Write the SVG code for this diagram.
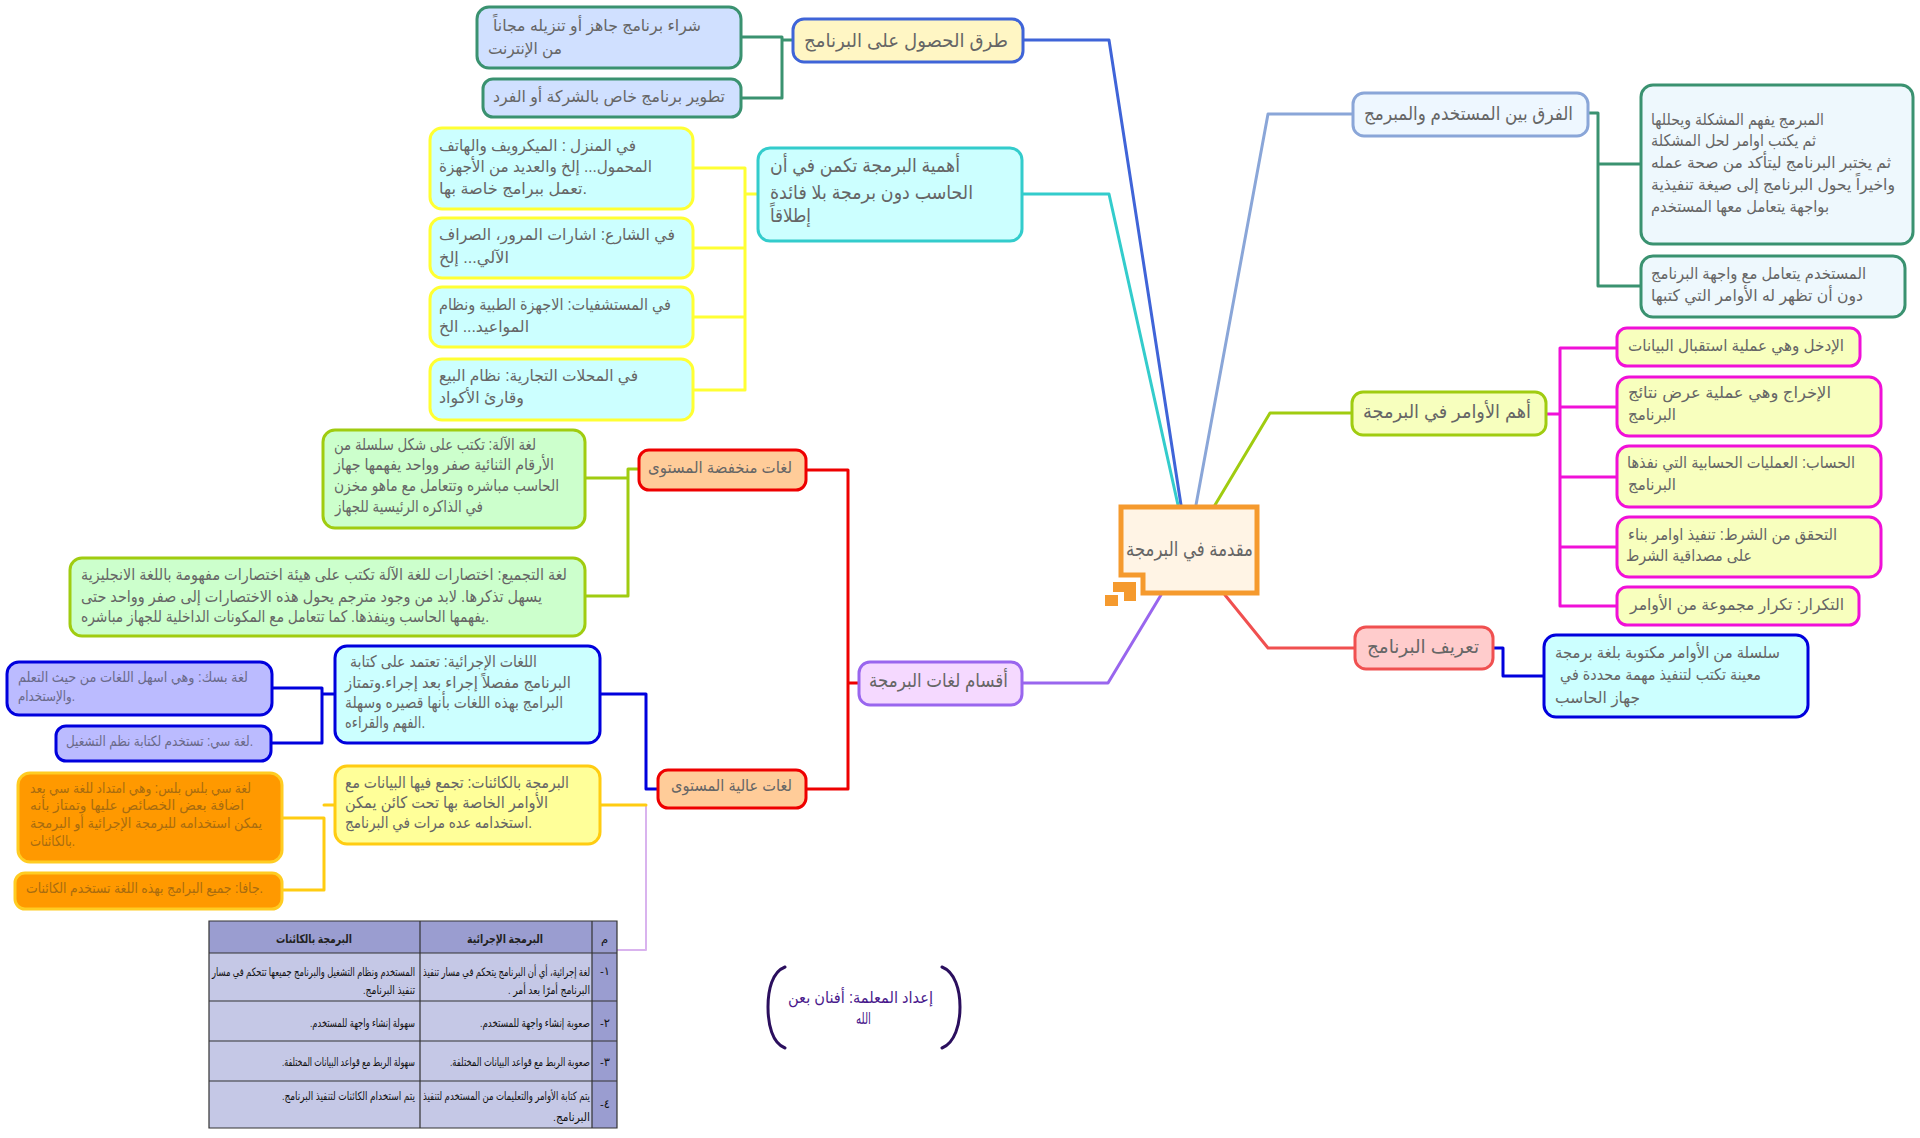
<svg xmlns="http://www.w3.org/2000/svg" width="1920" height="1138" viewBox="0 0 1920 1138">
<style>
text{font-family:"Liberation Sans","DejaVu Sans",sans-serif;fill:#666;font-size:16px}
.l{font-size:19px}
.s{font-size:14px}
.c{fill:none;stroke-width:3;stroke-linejoin:round;stroke-linecap:round}
.thin{stroke-width:2}
.n{stroke-width:3}
.f1{fill:#d0e0ff;stroke:#3a9270}
.f2{fill:#fff6c4;stroke:#3f64d8}
.f3{fill:#ccffff;stroke:#33cccc}
.f4{fill:#ccffff;stroke:#ffff33}
.f5{fill:#eef7ff;stroke:#8aa6d8}
.f6{fill:#eef8fd;stroke:#3a9270}
.f7{fill:#f7ffbe;stroke:#a0cc10}
.f8{fill:#f8ffbe;stroke:#f010d8}
.f9{fill:#ffcccc;stroke:#f05050}
.f10{fill:#ccffff;stroke:#0000dd}
.f11{fill:#f5d9ff;stroke:#9966ee}
.f12{fill:#ffcc99;stroke:#ee0000}
.f13{fill:#ccffcc;stroke:#a0cc10}
.f14{fill:#bbbbff;stroke:#0000dd}
.f15{fill:#ffff99;stroke:#ffcc11}
.f16{fill:#ff9900;stroke:#ffcc22}
.p{fill:#6a6a8a}
.o{fill:#a86c10}
.t{fill:#111;font-size:11.5px}
.h{fill:#222;font-size:12px;font-weight:bold}
.rb{fill:#4a1a8c;font-size:16px}
.cn{font-size:20px}
</style>
<g id="connectors">
<path class="c" stroke="#3f64d8" d="M1023 40H1109L1181 505"/>
<path class="c" stroke="#33cccc" d="M1022 194H1109L1178 505"/>
<path class="c" stroke="#8aa6d8" d="M1353 114H1268L1196 505"/>
<path class="c" stroke="#a0cc10" d="M1352 413H1270L1215 505"/>
<path class="c" stroke="#9966ee" d="M1022 683H1108L1161 595"/>
<path class="c" stroke="#f05050" d="M1225 595L1268 648H1355"/>
<path class="c" stroke="#3a9270" d="M741 37H782M741 98H782V37M782 40H793"/>
<path class="c" stroke="#ffff33" d="M693 168H745V390H693M693 248H745M693 317H745M745 194H758"/>
<path class="c" stroke="#3a9270" d="M1588 113H1598V286H1641M1598 164H1641"/>
<path class="c" stroke="#f010d8" d="M1617 348H1560V606H1617M1617 407H1560M1617 477H1560M1617 547H1560M1546 414H1560"/>
<path class="c" stroke="#0000dd" d="M1493 648H1503V676H1544"/>
<path class="c" stroke="#a0cc10" d="M585 478H628M585 596H628V469H639"/>
<path class="c" stroke="#ee0000" d="M806 470H848V789H806M848 683H859"/>
<path class="c thin" stroke="#d9b3ee" d="M646 805V950H617"/>
<path class="c" stroke="#0000dd" d="M600 694H646V789H658"/>
<path class="c" stroke="#ffcc11" d="M600 805H646"/>
<path class="c" stroke="#0000dd" d="M272 688H322V743H271M322 694H335"/>
<path class="c" stroke="#ffcc11" d="M282 818H324V890H282M324 805H335"/>
</g>
<g id="center">
<path fill="#fff4e5" stroke="#f59a2e" stroke-width="5" d="M1121 507H1257V593H1143V575H1121Z"/>
<path fill="#f59a2e" d="M1113 582H1136V601H1124V592H1113Z"/>
<rect x="1105" y="595" width="13" height="11" fill="#f59a2e"/>
<text class="cn" x="1126" y="556" textLength="127" lengthAdjust="spacingAndGlyphs">مقدمة في البرمجة</text>
</g>
<g id="n-buy"><rect class="n f1" x="477" y="7" width="264" height="61" rx="12"/>
<text x="493" y="31" textLength="208" lengthAdjust="spacingAndGlyphs">شراء برنامج جاهز أو تنزيله مجاناً</text>
<text x="488" y="54" textLength="74" lengthAdjust="spacingAndGlyphs">من الإنترنت</text></g>
<g id="n-dev"><rect class="n f1" x="483" y="79" width="258" height="38" rx="10"/>
<text x="493" y="102" textLength="232" lengthAdjust="spacingAndGlyphs">تطوير برنامج خاص بالشركة أو الفرد</text></g>
<g id="n-ways"><rect class="n f2" x="793" y="19" width="230" height="43" rx="11"/>
<text class="l" x="804" y="47" textLength="204" lengthAdjust="spacingAndGlyphs">طرق الحصول على البرنامج</text></g>
<g id="n-importance"><rect class="n f3" x="758" y="148" width="264" height="93" rx="12"/>
<text class="l" x="770" y="172" textLength="190" lengthAdjust="spacingAndGlyphs">أهمية البرمجة تكمن في أن</text>
<text class="l" x="770" y="199" textLength="203" lengthAdjust="spacingAndGlyphs">الحاسب دون برمجة بلا فائدة</text>
<text class="l" x="770" y="222" textLength="41" lengthAdjust="spacingAndGlyphs">إطلاقاً</text></g>
<g id="n-home"><rect class="n f4" x="430" y="128" width="263" height="81" rx="12"/>
<text x="439" y="151" textLength="197" lengthAdjust="spacingAndGlyphs">في المنزل : الميكرويف والهاتف</text>
<text x="439" y="172" textLength="213" lengthAdjust="spacingAndGlyphs">المحمول... إلخ والعديد من الأجهزة</text>
<text x="439" y="194" textLength="148" lengthAdjust="spacingAndGlyphs">تعمل ببرامج خاصة بها.</text></g>
<g id="n-street"><rect class="n f4" x="430" y="218" width="263" height="60" rx="12"/>
<text x="439" y="240" textLength="236" lengthAdjust="spacingAndGlyphs">في الشارع: اشارات المرور، الصراف</text>
<text x="439" y="263" textLength="70" lengthAdjust="spacingAndGlyphs">الآلي... إلخ</text></g>
<g id="n-hospital"><rect class="n f4" x="430" y="287" width="263" height="60" rx="12"/>
<text x="439" y="310" textLength="232" lengthAdjust="spacingAndGlyphs">في المستشفيات: الاجهزة الطبية ونظام</text>
<text x="439" y="332" textLength="90" lengthAdjust="spacingAndGlyphs">المواعيد... الخ</text></g>
<g id="n-shops"><rect class="n f4" x="430" y="359" width="263" height="61" rx="12"/>
<text x="439" y="381" textLength="199" lengthAdjust="spacingAndGlyphs">في المحلات التجارية: نظام البيع</text>
<text x="439" y="403" textLength="85" lengthAdjust="spacingAndGlyphs">وقارئ الأكواد</text></g>
<g id="n-diff"><rect class="n f5" x="1353" y="93" width="235" height="43" rx="11"/>
<text class="l" x="1364" y="120" textLength="209" lengthAdjust="spacingAndGlyphs">الفرق بين المستخدم والمبرمج</text></g>
<g id="n-programmer"><rect class="n f6" x="1641" y="85" width="272" height="159" rx="12"/>
<text x="1651" y="125" textLength="173" lengthAdjust="spacingAndGlyphs">المبرمج يفهم المشكلة ويحللها</text>
<text x="1651" y="146" textLength="165" lengthAdjust="spacingAndGlyphs">ثم يكتب اوامر لحل المشكلة</text>
<text x="1651" y="168" textLength="240" lengthAdjust="spacingAndGlyphs">ثم يختبر البرنامج ليتأكد من صحة عمله</text>
<text x="1651" y="190" textLength="244" lengthAdjust="spacingAndGlyphs">واخيراً يحول البرنامج إلى صيغة تنفيذية</text>
<text x="1651" y="212" textLength="178" lengthAdjust="spacingAndGlyphs">بواجهة يتعامل معها المستخدم</text></g>
<g id="n-user"><rect class="n f6" x="1641" y="256" width="264" height="61" rx="12"/>
<text x="1651" y="279" textLength="215" lengthAdjust="spacingAndGlyphs">المستخدم يتعامل مع واجهة البرنامج</text>
<text x="1651" y="301" textLength="212" lengthAdjust="spacingAndGlyphs">دون أن تظهر له الأوامر التي كتبها</text></g>
<g id="n-commands"><rect class="n f7" x="1352" y="392" width="194" height="43" rx="11"/>
<text class="l" x="1363" y="418" textLength="168" lengthAdjust="spacingAndGlyphs">أهم الأوامر في البرمجة</text></g>
<g id="n-input"><rect class="n f8" x="1617" y="328" width="243" height="38" rx="10"/>
<text x="1628" y="351" textLength="216" lengthAdjust="spacingAndGlyphs">الإدخل وهي عملية استقبال البيانات</text></g>
<g id="n-output"><rect class="n f8" x="1617" y="377" width="264" height="59" rx="12"/>
<text x="1628" y="398" textLength="203" lengthAdjust="spacingAndGlyphs">الإخراج وهي عملية عرض نتائج</text>
<text x="1628" y="420" textLength="48" lengthAdjust="spacingAndGlyphs">البرنامج</text></g>
<g id="n-calc"><rect class="n f8" x="1617" y="446" width="264" height="61" rx="12"/>
<text x="1627" y="468" textLength="228" lengthAdjust="spacingAndGlyphs">الحساب: العمليات الحسابية التي نفذها</text>
<text x="1628" y="490" textLength="48" lengthAdjust="spacingAndGlyphs">البرنامج</text></g>
<g id="n-cond"><rect class="n f8" x="1617" y="517" width="264" height="60" rx="12"/>
<text x="1628" y="540" textLength="209" lengthAdjust="spacingAndGlyphs">التحقق من الشرط: تنفيذ اوامر بناء</text>
<text x="1626" y="561" textLength="126" lengthAdjust="spacingAndGlyphs">على مصداقية الشرط</text></g>
<g id="n-loop"><rect class="n f8" x="1617" y="587" width="242" height="38" rx="10"/>
<text x="1630" y="610" textLength="214" lengthAdjust="spacingAndGlyphs">التكرار: تكرار مجموعة من الأوامر</text></g>
<g id="n-def"><rect class="n f9" x="1355" y="627" width="138" height="42" rx="11"/>
<text class="l" x="1367" y="653" textLength="112" lengthAdjust="spacingAndGlyphs">تعريف البرنامج</text></g>
<g id="n-defbody"><rect class="n f10" x="1544" y="635" width="264" height="82" rx="12"/>
<text x="1555" y="658" textLength="225" lengthAdjust="spacingAndGlyphs">سلسلة من الأوامر مكتوبة بلغة برمجة</text>
<text x="1560" y="680" textLength="201" lengthAdjust="spacingAndGlyphs">معينة تكتب لتنفيذ مهمة محددة في</text>
<text x="1555" y="703" textLength="85" lengthAdjust="spacingAndGlyphs">جهاز الحاسب</text></g>
<g id="n-types"><rect class="n f11" x="859" y="662" width="163" height="43" rx="11"/>
<text class="l" x="869" y="687" textLength="139" lengthAdjust="spacingAndGlyphs">أقسام لغات البرمجة</text></g>
<g id="n-low"><rect class="n f12" x="639" y="450" width="167" height="40" rx="10"/>
<text x="648" y="473" textLength="144" lengthAdjust="spacingAndGlyphs">لغات منخفضة المستوى</text></g>
<g id="n-high"><rect class="n f12" x="658" y="770" width="148" height="38" rx="10"/>
<text x="671" y="791" textLength="121" lengthAdjust="spacingAndGlyphs">لغات عالية المستوى</text></g>
<g id="n-machine"><rect class="n f13" x="323" y="430" width="262" height="98" rx="12"/>
<text x="334" y="450" textLength="202" lengthAdjust="spacingAndGlyphs">لغة الآلة: تكتب على شكل سلسلة من</text>
<text x="334" y="470" textLength="220" lengthAdjust="spacingAndGlyphs">الأرقام الثنائية صفر وواحد يفهمها جهاز</text>
<text x="334" y="491" textLength="225" lengthAdjust="spacingAndGlyphs">الحاسب مباشره وتتعامل مع ماهو مخزن</text>
<text x="335" y="512" textLength="148" lengthAdjust="spacingAndGlyphs">في الذاكره الرئيسية للجهاز</text></g>
<g id="n-asm"><rect class="n f13" x="70" y="558" width="515" height="78" rx="12"/>
<text x="81" y="580" textLength="486" lengthAdjust="spacingAndGlyphs">لغة التجميع: اختصارات للغة الآلة تكتب على هيئة اختصارات مفهومة باللغة الانجليزية</text>
<text x="81" y="602" textLength="461" lengthAdjust="spacingAndGlyphs">يسهل تذكرها. لابد من وجود مترجم يحول هذه الاختصارات إلى صفر وواحد حتى</text>
<text x="81" y="622" textLength="408" lengthAdjust="spacingAndGlyphs">يفهمها الحاسب وينفذها. كما تتعامل مع المكونات الداخلية للجهاز مباشره.</text></g>
<g id="n-procedural"><rect class="n f10" x="335" y="646" width="265" height="97" rx="12"/>
<text x="350" y="667" textLength="187" lengthAdjust="spacingAndGlyphs">اللغات الإجرائية: تعتمد على كتابة</text>
<text x="345" y="688" textLength="226" lengthAdjust="spacingAndGlyphs">البرنامج مفصلاً إجراء بعد إجراء.وتمتاز</text>
<text x="345" y="708" textLength="218" lengthAdjust="spacingAndGlyphs">البرامج بهذه اللغات بأنها قصيره وسهلة</text>
<text x="345" y="728" textLength="80" lengthAdjust="spacingAndGlyphs">الفهم والقراءه.</text></g>
<g id="n-oop"><rect class="n f15" x="335" y="766" width="265" height="78" rx="12"/>
<text x="345" y="788" textLength="224" lengthAdjust="spacingAndGlyphs">البرمجة بالكائنات: تجمع فيها البيانات مع</text>
<text x="345" y="808" textLength="203" lengthAdjust="spacingAndGlyphs">الأوامر الخاصة بها تحت كائن يمكن</text>
<text x="345" y="828" textLength="187" lengthAdjust="spacingAndGlyphs">استخدامه عده مرات في البرنامج.</text></g>
<g id="n-basic"><rect class="n f14" x="7" y="662" width="265" height="53" rx="12"/>
<text class="s p" x="18" y="682" textLength="230" lengthAdjust="spacingAndGlyphs">لغة بسك: وهي اسهل اللغات من حيث التعلم</text>
<text class="s p" x="18" y="701" textLength="57" lengthAdjust="spacingAndGlyphs">والإستخدام.</text></g>
<g id="n-c"><rect class="n f14" x="56" y="726" width="215" height="35" rx="10"/>
<text class="s p" x="66" y="746" textLength="187" lengthAdjust="spacingAndGlyphs">لغة سي: تستخدم لكتابة نظم التشغيل.</text></g>
<g id="n-cpp"><rect class="n f16" x="18" y="773" width="264" height="89" rx="12"/>
<text class="s o" x="30" y="793" textLength="221" lengthAdjust="spacingAndGlyphs">لغة سي بلس بلس: وهي امتداد للغة سي بعد</text>
<text class="s o" x="30" y="810" textLength="214" lengthAdjust="spacingAndGlyphs">اضافة بعض الخصائص عليها وتمتاز بأنه</text>
<text class="s o" x="30" y="828" textLength="232" lengthAdjust="spacingAndGlyphs">يمكن استخدامه للبرمجة الإجرائية أو البرمجة</text>
<text class="s o" x="30" y="846" textLength="45" lengthAdjust="spacingAndGlyphs">بالكائنات.</text></g>
<g id="n-java"><rect class="n f16" x="15" y="873" width="267" height="36" rx="10"/>
<text class="s o" x="26" y="893" textLength="237" lengthAdjust="spacingAndGlyphs">جافا: جميع البرامج بهذه اللغة تستخدم الكائنات.</text></g>
<g id="n-table">
<rect x="209" y="921" width="408" height="207" fill="#c5c8e6"/>
<rect x="209" y="921" width="408" height="32" fill="#9a9dd0"/>
<rect x="592" y="921" width="25" height="207" fill="#9a9dd0"/>
<path fill="none" stroke="#333" stroke-width="1.2" d="M209 921H617V1128H209ZM420 921V1128M592 921V1128M209 953H617M209 1001H617M209 1041H617M209 1081H617"/>
<text class="h" x="467" y="943" textLength="76" lengthAdjust="spacingAndGlyphs">البرمجة الإجرائية</text>
<text class="h" x="276" y="943" textLength="76" lengthAdjust="spacingAndGlyphs">البرمجة بالكائنات</text>
<text class="t" x="601" y="943">م</text>
<text class="t" x="600" y="975">-١</text>
<text class="t" x="423" y="976" textLength="167" lengthAdjust="spacingAndGlyphs">لغة إجرائية، أي أن البرنامج يتحكم في مسار تنفيذ</text>
<text class="t" x="508" y="994" textLength="82" lengthAdjust="spacingAndGlyphs">البرنامج أمرًا بعد أمر .&#x200F;</text>
<text class="t" x="212" y="976" textLength="203" lengthAdjust="spacingAndGlyphs">المستخدم ونظام التشغيل والبرنامج جميعها تتحكم في مسار</text>
<text class="t" x="363" y="994" textLength="52" lengthAdjust="spacingAndGlyphs">تنفيذ البرنامج.&#x200F;</text>
<text class="t" x="600" y="1027">-٢</text>
<text class="t" x="480" y="1027" textLength="110" lengthAdjust="spacingAndGlyphs">صعوبة إنشاء واجهة للمستخدم.&#x200F;</text>
<text class="t" x="310" y="1027" textLength="105" lengthAdjust="spacingAndGlyphs">سهولة إنشاء واجهة للمستخدم.&#x200F;</text>
<text class="t" x="600" y="1066">-٣</text>
<text class="t" x="450" y="1066" textLength="140" lengthAdjust="spacingAndGlyphs">صعوبة الربط مع قواعد البيانات المختلفة.&#x200F;</text>
<text class="t" x="282" y="1066" textLength="133" lengthAdjust="spacingAndGlyphs">سهولة الربط مع قواعد البيانات المختلفة.&#x200F;</text>
<text class="t" x="600" y="1108">-٤</text>
<text class="t" x="423" y="1100" textLength="167" lengthAdjust="spacingAndGlyphs">يتم كتابة الأوامر والتعليمات من المستخدم لتنفيذ</text>
<text class="t" x="553" y="1121" textLength="37" lengthAdjust="spacingAndGlyphs">البرنامج.&#x200F;</text>
<text class="t" x="282" y="1100" textLength="133" lengthAdjust="spacingAndGlyphs">يتم استخدام الكائنات لتنفيذ البرنامج.&#x200F;</text>
</g>
<g id="n-author">
<path fill="none" stroke="#2b0f5e" stroke-width="3" stroke-linecap="round" d="M785 967C772 972 768 990 768 1007S772 1043 785 1048M942 967C955 972 960 990 960 1007S955 1043 942 1048"/>
<text class="rb" x="788" y="1003" textLength="145" lengthAdjust="spacingAndGlyphs">إعداد المعلمة: أفنان بعن</text>
<text class="rb" x="856" y="1024" textLength="15" lengthAdjust="spacingAndGlyphs">الله</text>
</g>
</svg>
